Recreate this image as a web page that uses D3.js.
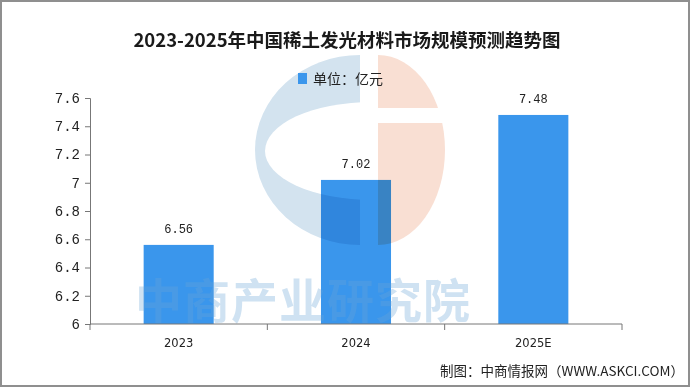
<!DOCTYPE html>
<html>
<head>
<meta charset="utf-8">
<script src="https://cdn.jsdelivr.net/npm/d3@7"></script>
<style>
  body { margin: 0; background: #fff; }
</style>
</head>
<body>
<div id="chart"></div>
<script>
let width = 700;
let height = 389;

// data
const years = ["2023", "2024", "2025E"];
const values = [6.56, 7.02, 7.48];
const yTicks = [6, 6.2, 6.4, 6.6, 6.8, 7, 7.2, 7.4, 7.6];

const title = "2023-2025年中国稀土发光材料市场规模预测趋势图";
const unitLabel = "单位：亿元";
const source = "制图：中商情报网（WWW.ASKCI.COM）";
const watermark = "中商产业研究院";

const barColor = "#3a96ec";

const svg = d3.select("#chart")
    .append("svg")
    .attr("width", width)
    .attr("height", height);

svg.append("rect")
    .attr("width", width).attr("height", height)
    .attr("fill", "#fff");

// outer frame
svg.append("rect")
    .attr("x", 1).attr("y", 1)
    .attr("width", 688).attr("height", 385)
    .attr("fill", "none")
    .attr("stroke", "#8f8f8f")
    .attr("stroke-width", 2);

let plot = {left: 90, right: 622, top: 98, bottom: 324};

let x = d3.scaleBand()
    .domain(years)
    .range([plot.left, plot.right]);

let y = d3.scaleLinear()
    .domain([6, 7.6])
    .range([plot.bottom, plot.top]);

// bars
const barW = x.bandwidth() * 0.395;
svg.append("g")
    .selectAll("rect")
    .data(values)
    .join("rect")
    .attr("x", (d, i) => x(years[i]) + x.bandwidth() / 2 - barW / 2)
    .attr("y", d => y(d))
    .attr("width", barW)
    .attr("height", d => y(6) - y(d))
    .attr("fill", barColor);

// watermark logo, multiplied over the bars
const logo = svg.append("g").style("mix-blend-mode", "multiply");
const logoInner = logo.append("g").style("isolation", "isolate");
logoInner.append("path")
    .attr("d", "M360,55 A105,95 0 0 0 360,245 Z")
    .attr("fill", "#d3e3ef");
logoInner.append("ellipse")
    .attr("cx", 372).attr("cy", 151)
    .attr("rx", 107).attr("ry", 49)
    .attr("fill", "#fff");
logoInner.append("rect")
    .attr("x", 360).attr("y", 50).attr("width", 120).attr("height", 200)
    .attr("fill", "#fff");
logoInner.append("path")
    .attr("d", "M378,55 A67,95 0 0 1 378,245 Z")
    .attr("fill", "#f9dfd3");
logoInner.append("rect")
    .attr("x", 376).attr("y", 108).attr("width", 75).attr("height", 15)
    .attr("fill", "#fff");

// watermark text over bars
svg.append("text")
    .attr("x", 303)
    .attr("y", 318)
    .attr("text-anchor", "middle")
    .style("font-family", "Noto Sans CJK SC")
    .style("font-size", "47px")
    .style("font-weight", "bold")
    .style("letter-spacing", "1px")
    .attr("fill", "#6aa5d8")
    .attr("fill-opacity", 0.32)
    .text(watermark);

// value labels
svg.append("g")
    .selectAll("text")
    .data(values)
    .join("text")
    .attr("x", (d, i) => x(years[i]) + x.bandwidth() / 2)
    .attr("y", d => y(d) - 12)
    .attr("text-anchor", "middle")
    .style("font-family", "Liberation Mono")
    .style("font-size", "12px")
    .attr("fill", "#222")
    .text(d => d.toFixed(2));

// y axis
const yAxis = svg.append("g")
    .attr("transform", `translate(${plot.left},0)`)
    .call(d3.axisLeft(y).tickValues(yTicks).tickSize(5).tickPadding(5).tickFormat(d => d3.format("")(d)));
yAxis.selectAll("path, line").attr("stroke", "#777");
yAxis.selectAll("text")
    .style("font-family", "Liberation Mono")
    .style("font-size", "14px")
    .attr("fill", "#222");

// x axis: ticks at band edges
const xAxis = svg.append("g")
    .attr("transform", `translate(0,${plot.bottom})`);
xAxis.append("line")
    .attr("x1", plot.left).attr("x2", plot.right)
    .attr("stroke", "#777");
xAxis.selectAll(".edge")
    .data(years.map(d => x(d)).concat([plot.right]))
    .join("line")
    .attr("class", "edge")
    .attr("x1", d => d).attr("x2", d => d)
    .attr("y1", 0).attr("y2", 6)
    .attr("stroke", "#777");
xAxis.selectAll("text")
    .data(years)
    .join("text")
    .attr("x", d => x(d) + x.bandwidth() / 2)
    .attr("y", 23)
    .attr("text-anchor", "middle")
    .style("font-family", "DejaVu Sans")
    .style("font-size", "11.5px")
    .attr("fill", "#222")
    .text(d => d);

// title
svg.append("text")
    .attr("x", 347)
    .attr("y", 47)
    .attr("text-anchor", "middle")
    .style("font-family", "Noto Sans CJK SC")
    .style("font-size", "18.5px")
    .style("font-weight", "bold")
    .attr("fill", "#1a1a1a")
    .text(title);

// legend
svg.append("rect")
    .attr("x", 298).attr("y", 73)
    .attr("width", 9).attr("height", 11)
    .attr("fill", barColor);
svg.append("text")
    .attr("x", 313)
    .attr("y", 84)
    .style("font-family", "Noto Sans CJK SC")
    .style("font-size", "14px")
    .attr("fill", "#222")
    .text(unitLabel);

// source
svg.append("text")
    .attr("x", 684)
    .attr("y", 376)
    .attr("text-anchor", "end")
    .style("font-family", "Noto Sans CJK SC")
    .style("font-size", "13.5px")
    .attr("fill", "#222")
    .text(source);
</script>
</body>
</html>
